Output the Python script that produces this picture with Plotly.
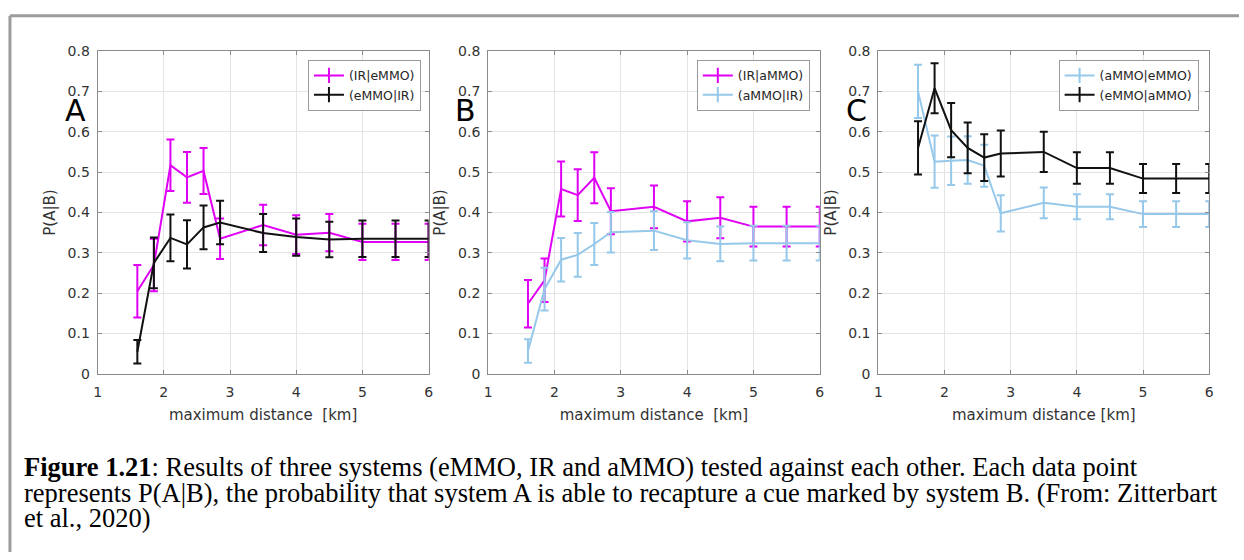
import plotly.graph_objects as go

W, H = 1244, 560

# ---------------- data ----------------
x_dist = [1.6, 1.85, 2.1, 2.35, 2.6, 2.85, 3.5, 4, 4.5, 5, 5.5, 6]
x_ticks = [1, 2, 3, 4, 5, 6]
y_ticks = [0, 0.1, 0.2, 0.3, 0.4, 0.5, 0.6, 0.7, 0.8]

# Panel A
A_ir_emmo = [0.205, 0.27, 0.517, 0.487, 0.503, 0.335, 0.369, 0.345, 0.35, 0.327, 0.327, 0.327]
A_ir_emmo_err = [0.065, 0.065, 0.064, 0.063, 0.057, 0.05, 0.05, 0.048, 0.046, 0.045, 0.045, 0.045]
A_emmo_ir = [0.055, 0.275, 0.337, 0.321, 0.363, 0.375, 0.349, 0.339, 0.333, 0.335, 0.335, 0.335]
A_emmo_ir_err = [0.029, 0.063, 0.058, 0.06, 0.054, 0.054, 0.047, 0.046, 0.044, 0.045, 0.045, 0.045]

# Panel B
B_ir_ammo = [0.174, 0.232, 0.458, 0.443, 0.486, 0.403, 0.414, 0.378, 0.387, 0.365, 0.365, 0.365]
B_ir_ammo_err = [0.059, 0.054, 0.068, 0.064, 0.063, 0.057, 0.053, 0.05, 0.051, 0.049, 0.049, 0.049]
B_ammo_ir = [0.057, 0.21, 0.283, 0.295, 0.322, 0.351, 0.355, 0.331, 0.322, 0.324, 0.324, 0.324]
B_ammo_ir_err = [0.029, 0.053, 0.054, 0.054, 0.052, 0.05, 0.048, 0.045, 0.043, 0.043, 0.043, 0.043]

# Panel C
C_ammo_emmo = [0.7, 0.526, 0.528, 0.53, 0.516, 0.398, 0.424, 0.414, 0.414, 0.396, 0.396, 0.396]
C_ammo_emmo_err = [0.066, 0.065, 0.06, 0.059, 0.052, 0.045, 0.038, 0.031, 0.031, 0.032, 0.032, 0.032]
C_emmo_ammo = [0.56, 0.708, 0.604, 0.56, 0.536, 0.546, 0.55, 0.51, 0.51, 0.484, 0.484, 0.484]
C_emmo_ammo_err = [0.066, 0.062, 0.067, 0.063, 0.058, 0.057, 0.05, 0.039, 0.039, 0.036, 0.036, 0.036]

panel_letters = ["A", "B", "C"]
x_titles = ["maximum distance\u00a0 [km]", "maximum distance\u00a0 [km]", "maximum distance [km]"]
y_title = "P(A|B)"

caption_lines = [
    "<b>Figure 1.21</b>: Results of three systems (eMMO, IR and aMMO) tested against each other. Each data point",
    "represents P(A|B), the probability that system A is able to recapture a cue marked by system B. (From: Zitterbart",
    "et al., 2020)",
]

# ---------------- styling ----------------
MAGENTA = "#e000f5"
LIGHTBLUE = "#96c8ea"
BLACK = "#111111"
AXCOL = "#8a8a8a"
GRID = "#e4e4e4"
TXT = "#333333"
FONT = "DejaVu Sans"

# pixel geometry of the three axes boxes
x_px = [(94.3, 427.7), (487.7, 821.7), (880.7, 1214.0)]
y_px = (44.3, 376.7)  # top, bottom
legend_right_px = [420.0, 811.7, 1203.3]
letter_x_px = [72.5, 465.0, 859.0]
caption_y_px = [473, 499, 525]

panels = [
    [("(IR|eMMO)", A_ir_emmo, A_ir_emmo_err, MAGENTA), ("(eMMO|IR)", A_emmo_ir, A_emmo_ir_err, BLACK)],
    [("(IR|aMMO)", B_ir_ammo, B_ir_ammo_err, MAGENTA), ("(aMMO|IR)", B_ammo_ir, B_ammo_ir_err, LIGHTBLUE)],
    [("(aMMO|eMMO)", C_ammo_emmo, C_ammo_emmo_err, LIGHTBLUE), ("(eMMO|aMMO)", C_emmo_ammo, C_emmo_ammo_err, BLACK)],
]

fig = go.Figure()
layout = dict(
    width=W, height=H,
    margin=dict(l=0, r=0, t=0, b=0),
    paper_bgcolor="white", plot_bgcolor="white",
    font=dict(family=FONT, color=TXT),
    showlegend=True,
)

annotations = []
for i, series in enumerate(panels):
    n = "" if i == 0 else str(i + 1)
    xa, ya = "x" + n, "y" + n
    leg = "legend" + n
    for name, vals, errs, col in series:
        fig.add_trace(go.Scatter(
            x=x_dist, y=vals, mode="lines", xaxis=xa, yaxis=ya,
            line=dict(color=col, width=2),
            error_y=dict(type="data", array=errs, visible=True, color=col, thickness=2, width=4),
            showlegend=False, hoverinfo="skip",
        ))
    for name, vals, errs, col in series:
        fig.add_trace(go.Scatter(
            x=[None], y=[None], mode="lines+markers", name=name, xaxis=xa, yaxis=ya,
            line=dict(color=col, width=2),
            marker=dict(symbol="line-ns-open", size=11, color=col, line=dict(color=col, width=2)),
            legend=leg, showlegend=True,
        ))
    x0, x1 = x_px[i]
    layout["xaxis" + n] = dict(
        domain=[x0 / W, x1 / W], range=[1, 6], anchor=ya,
        tickvals=x_ticks, ticks="inside", ticklen=4, tickcolor=AXCOL,
        showline=True, linecolor=AXCOL, linewidth=1, mirror="ticks",
        showgrid=True, gridcolor=GRID, gridwidth=1, zeroline=False,
        tickfont=dict(size=14, color=TXT, family=FONT), ticklabelstandoff=5,
        title=dict(text=x_titles[i], font=dict(size=15, color=TXT, family=FONT), standoff=10),
    )
    layout["yaxis" + n] = dict(
        domain=[1 - y_px[1] / H, 1 - y_px[0] / H], range=[0, 0.8], anchor=xa,
        tickvals=y_ticks, ticks="inside", ticklen=4, tickcolor=AXCOL,
        showline=True, linecolor=AXCOL, linewidth=1, mirror="ticks",
        showgrid=True, gridcolor=GRID, gridwidth=1, zeroline=False,
        tickfont=dict(size=14, color=TXT, family=FONT), ticklabelstandoff=4,
        title=dict(text=y_title, font=dict(size=15, color=TXT, family=FONT), standoff=8),
    )
    layout[leg] = dict(
        x=legend_right_px[i] / W, xanchor="right", xref="paper",
        y=1 - 53.3 / H, yanchor="top", yref="paper",
        bgcolor="white", bordercolor="#9a9a9a", borderwidth=1,
        font=dict(size=12.5, color="#262626", family=FONT),
        tracegroupgap=0, itemwidth=30, traceorder="normal",
    )
    annotations.append(dict(
        text=panel_letters[i], x=letter_x_px[i] / W, y=1 - 106 / H,
        xref="paper", yref="paper", xanchor="center", yanchor="middle",
        showarrow=False, font=dict(size=30, color="black", family=FONT),
    ))

for line, ypx in zip(caption_lines, caption_y_px):
    annotations.append(dict(
        text=line, x=18 / W, y=1 - ypx / H, xref="paper", yref="paper",
        xanchor="left", yanchor="middle", showarrow=False, align="left",
        font=dict(size=26.5, color="black", family="Liberation Serif"),
    ))

layout["annotations"] = annotations
layout["shapes"] = [
    dict(type="line", xref="paper", yref="paper", x0=6 / W, x1=1, y0=1 - 8 / H, y1=1 - 8 / H,
         line=dict(color="#9c9c9c", width=3)),
    dict(type="line", xref="paper", yref="paper", x0=6 / W, x1=6 / W, y0=1 - 8 / H, y1=0,
         line=dict(color="#9c9c9c", width=3)),
]

fig.update_layout(**layout)
fig.write_html("out.html")
